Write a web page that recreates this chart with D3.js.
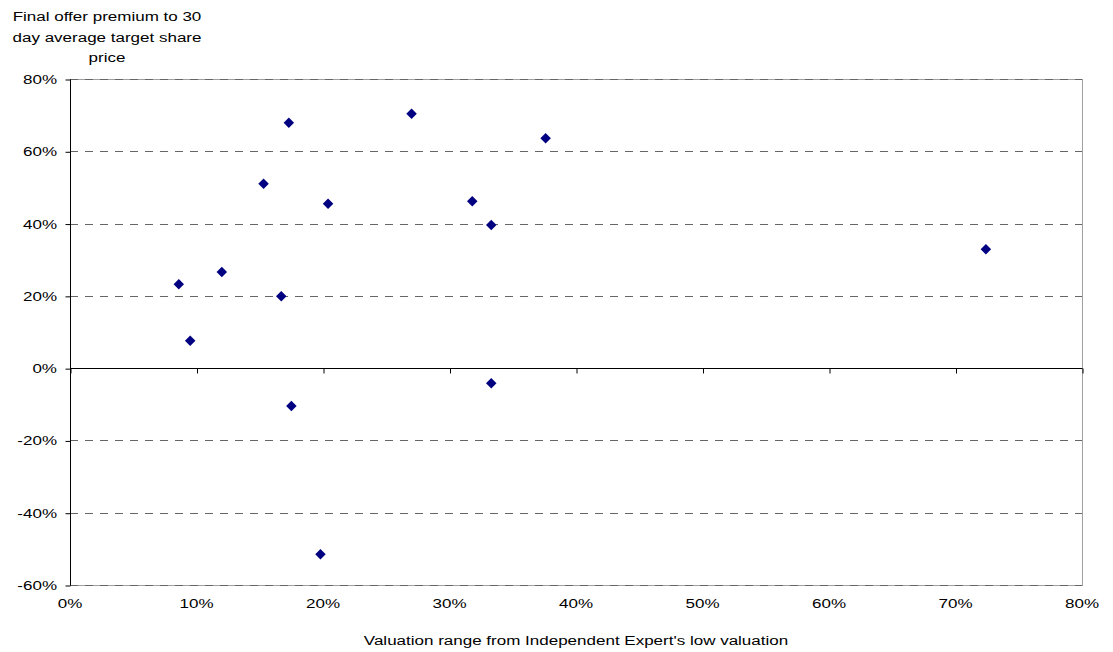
<!DOCTYPE html>
<html>
<head>
<meta charset="utf-8">
<script src="https://cdn.jsdelivr.net/npm/d3@7"></script>
<style>
  html, body { margin: 0; padding: 0; background: #fff; }
  svg { display: block; font-family: "Liberation Sans", Arial, sans-serif; }
</style>
</head>
<body>
<svg id="chart" width="1113" height="652"></svg>
<script>
// Valuation range from the Independent Expert's low valuation (%)
const valuationRange = [17.3, 27.0, 37.6, 15.3, 20.4, 31.8, 33.3, 72.4, 8.6, 12.0, 16.7, 9.5, 33.3, 17.5, 19.8];
// Final offer premium to 30 day average target share price (%)
const offerPremium   = [67.9, 70.4, 63.6, 51.0, 45.5, 46.2, 39.6, 32.9, 23.2, 26.6, 19.9, 7.6, -4.2, -10.5, -51.5];

const xTicks = [0, 10, 20, 30, 40, 50, 60, 70, 80];
const yTicks = [-60, -40, -20, 0, 20, 40, 60, 80];
const yTitleLines = ["Final offer premium to 30", "day average target share", "price"];
const xTitle = "Valuation range from Independent Expert's low valuation";

const svg = d3.select("#chart");
const plotL = 70, plotR = 1082, plotT = 79, plotB = 585;
const fontSize = 13.5, stretch = 1.26;   // text is drawn slightly widened

const x = d3.scaleLinear().domain([0, 80]).range([plotL, plotR]);
const y = d3.scaleLinear().domain([-60, 80]).range([plotB, plotT]);

// helper: place a horizontally widened label
function label(g, tx, ty, anchor, str) {
  return g.append("text")
    .attr("transform", `translate(${tx},${ty}) scale(${stretch},1)`)
    .attr("text-anchor", anchor)
    .attr("font-size", fontSize).attr("fill", "#000")
    .text(str);
}

// plot area border
svg.append("rect")
  .attr("x", plotL + 0.5).attr("y", plotT + 0.5)
  .attr("width", plotR - plotL).attr("height", plotB - plotT)
  .attr("fill", "none").attr("stroke", "#a0a0a0").attr("stroke-width", 1);

// dashed horizontal gridlines
svg.append("g").selectAll("line")
  .data(yTicks.filter(d => d !== 0))
  .join("line")
  .attr("x1", plotL).attr("x2", plotR)
  .attr("y1", d => Math.round(y(d)) + 0.5).attr("y2", d => Math.round(y(d)) + 0.5)
  .attr("stroke", "#666").attr("stroke-width", 1)
  .attr("stroke-dasharray", "8,7");

// y axis line and ticks
const yAxis = d3.axisLeft(y).tickValues(yTicks).tickSize(5).tickFormat("");
const gy = svg.append("g").attr("transform", `translate(${plotL + 0.5},0.5)`).call(yAxis);
gy.select(".domain").attr("stroke", "#000").attr("d", `M0,${plotT}V${plotB}`);
gy.selectAll(".tick line").attr("stroke", "#000");

// y tick labels
const gyl = svg.append("g");
yTicks.forEach(t => label(gyl, 57, y(t) + 5, "end", t + "%"));

// x axis line at zero with ticks pointing down
const xAxis = d3.axisBottom(x).tickValues(xTicks).tickSize(5).tickFormat("");
const gx = svg.append("g").attr("transform", `translate(0.5,${Math.round(y(0)) + 0.5})`).call(xAxis);
gx.select(".domain").attr("stroke", "#000").attr("d", `M${plotL},0H${plotR}`);
gx.selectAll(".tick line").attr("stroke", "#000");

// x tick labels along the bottom of the plot
const gxl = svg.append("g");
xTicks.forEach(t => label(gxl, x(t), 608, "middle", t + "%"));

// points
const diamond = d3.symbol().type(d3.symbolDiamond2).size(70);
svg.append("g").selectAll("path")
  .data(valuationRange.map((v, i) => [v, offerPremium[i]]))
  .join("path")
  .attr("d", diamond)
  .attr("transform", d => `translate(${x(d[0])},${y(d[1])})`)
  .attr("fill", "#000080");

// axis titles
const gt = svg.append("g");
yTitleLines.forEach((line, i) => label(gt, 107, 21 + i * 20.5, "middle", line));
label(gt, (plotL + plotR) / 2, 645, "middle", xTitle);
</script>
</body>
</html>
